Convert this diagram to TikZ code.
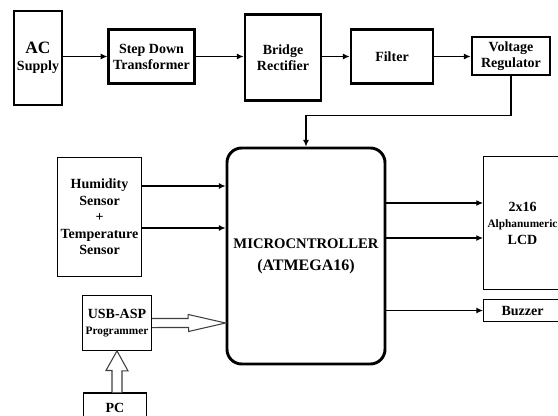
\documentclass[tikz,border=0pt]{standalone}
\usepackage{fontspec}
\setmainfont{Liberation Serif}
\usetikzlibrary{arrows.meta}

\begin{document}
\begin{tikzpicture}[x=0.75pt, y=-0.75pt,
    thickbox/.style={draw, line width=2.2pt, align=center, inner sep=0pt, font=\bfseries\fontsize{10.5}{12}\selectfont},
    thinbox/.style={draw, line width=0.8pt, align=center, inner sep=0pt, font=\bfseries\fontsize{10.5}{12.4}\selectfont},
    arr/.style={-{Latex[length=5pt,width=4.5pt]}, line width=0.8pt},
    hollow/.style={draw=black!75, fill=white, line width=0.8pt}]
    \useasboundingbox (0,0) rectangle (558,415);
    \clip (0,0) rectangle (558,415);

    % Power supply chain
    \node[thickbox, minimum width=36pt, minimum height=70.5pt] (ac) at (38,58) {{\fontsize{13}{15}\selectfont AC}\\[1pt]Supply};
    \node[thickbox, minimum width=64pt, minimum height=41pt] (sdt) at (151.5,56.5) {Step Down\\Transformer};
    \node[thickbox, minimum width=57pt, minimum height=65pt] (br) at (283,57.5) {Bridge\\Rectifier};
    \node[thickbox, minimum width=61.5pt, minimum height=41pt] (filter) at (392,56.5) {Filter};
    \node[thickbox, minimum width=58.5pt, minimum height=28.5pt] (vr) at (511,56) {Voltage\\Regulator};

    % Microcontroller
    \node[draw, line width=2.2pt, rounded corners=11pt, minimum width=118.5pt, minimum height=162pt,
          align=center, font=\bfseries\fontsize{11}{16.5}\selectfont] (mcu) at (306,256)
          {MICROCNTROLLER\\{\fontsize{12}{16.5}\selectfont (ATMEGA16)}};

    % Inputs and outputs
    \node[thinbox, minimum width=63pt, minimum height=89pt] (sensor) at (99.5,217) {Humidity\\Sensor\\+\\Temperature\\Sensor};
    \node[thinbox, minimum width=52pt, minimum height=41pt] (usb) at (117,323) {USB-ASP\\{\fontsize{8.5}{12}\selectfont Programmer}};
    \node[thinbox, minimum width=47pt, minimum height=22.5pt] (pc) at (115,408) {PC};
    \node[thinbox, minimum width=58.5pt, minimum height=100pt] (lcd) at (522.5,223) {2x16\\{\fontsize{8.5}{12.4}\selectfont Alphanumeric}\\LCD};
    \node[thinbox, minimum width=58.5pt, minimum height=16.5pt] (buzzer) at (522.5,310.5) {Buzzer};

    % Arrows of the power chain
    \draw[arr] (ac.east |- sdt.west) -- (sdt.west);
    \draw[arr] (sdt.east) -- (sdt.east -| br.west);
    \draw[arr] (br.east |- filter.west) -- (filter.west);
    \draw[arr] (filter.east) -- (filter.east -| vr.west);
    \draw[arr] (vr.south) -- ++(0,39) -| (mcu.north);

    % Sensor and output arrows
    \draw[arr] ([yshift=23.25pt]sensor.east) -- ([yshift=23.25pt]sensor.east -| mcu.west);
    \draw[arr] ([yshift=-8.25pt]sensor.east) -- ([yshift=-8.25pt]sensor.east -| mcu.west);
    \draw[arr] ([yshift=15pt]lcd.west -| mcu.east) -- ([yshift=15pt]lcd.west);
    \draw[arr] ([yshift=-11.25pt]lcd.west -| mcu.east) -- ([yshift=-11.25pt]lcd.west);
    \draw[arr] (buzzer.west -| mcu.east) -- (buzzer.west);

    % Hollow arrows
    \draw[hollow] ([yshift=3.4pt]usb.east) -- ++(36,0) -- ++(0,-4) -- (mcu.west |- usb.east)
        -- ++(-37,8.5) -- ++(0,-4) -- ([yshift=-3.4pt]usb.east);
    \draw[hollow] ([xshift=-3.75pt]usb.south |- pc.north) -- ++(0,-22) -- ++(-6,0) -- (usb.south)
        -- ++(11,20) -- ++(-6,0) -- ([xshift=3.75pt]usb.south |- pc.north);
\end{tikzpicture}
\end{document}
